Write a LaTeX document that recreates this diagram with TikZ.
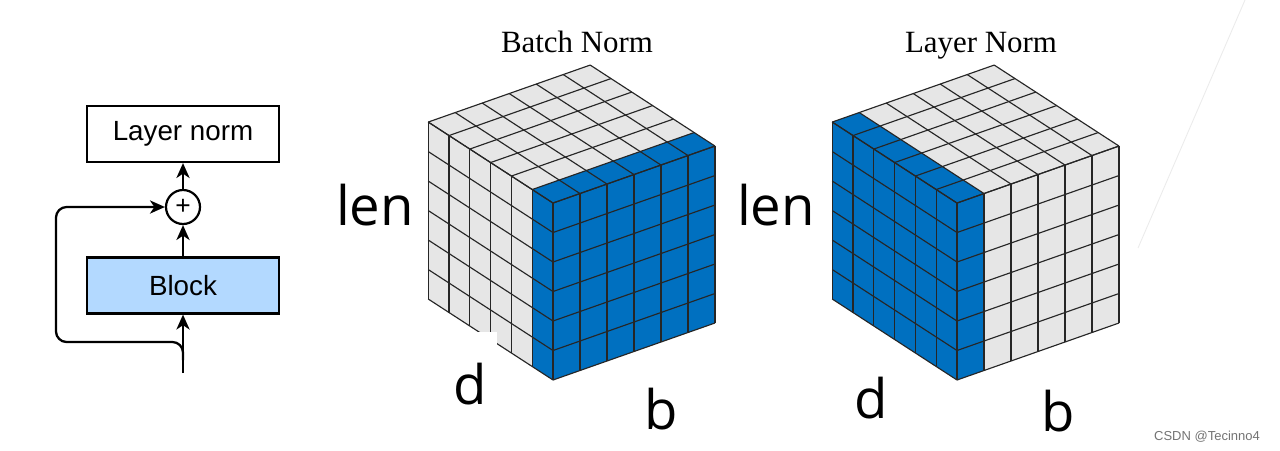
\documentclass[tikz,border=0pt]{standalone}
\usepackage{fontspec}
\setmainfont{Liberation Serif}
\setsansfont{Liberation Sans}
\newfontfamily\dimfont{Open Sans}
\usetikzlibrary{arrows.meta}
\definecolor{cellgray}{RGB}{230,230,230}
\definecolor{cellblue}{RGB}{0,112,192}
\definecolor{blockblue}{RGB}{179,217,255}
\tikzset{
  box/.style={draw, line width=1.25pt, minimum width=3.84cm, minimum height=1.12cm,
    font=\sffamily\fontsize{15.8}{18}\selectfont},
  arr/.style={line width=1.3pt, -{Stealth[length=8.5pt,width=7.5pt,inset=2.5pt]}},
  cellline/.style={line width=0.65pt, black!85},
  dimlabel/.style={font=\dimfont\fontsize{31}{36}\selectfont, inner sep=0pt},
  normtitle/.style={font=\fontsize{17.6}{20}\selectfont, anchor=base},
}
% 立方体の3面（灰色）
\newcommand{\cubefaces}{%
  \fill[cellgray] (0,0,0) -- (6,0,0) -- (6,6,0) -- (0,6,0) -- cycle;
  \fill[cellgray] (0,0,0) -- (0,0,6) -- (0,6,6) -- (0,6,0) -- cycle;
  \fill[cellgray] (0,6,0) -- (6,6,0) -- (6,6,6) -- (0,6,6) -- cycle;
}
% 格子線
\newcommand{\cubelines}{%
  \foreach \i in {0,...,6} {
    \draw[cellline] (\i,0,0) -- (\i,6,0);
    \draw[cellline] (0,\i,0) -- (6,\i,0);
    \draw[cellline] (0,0,\i) -- (0,6,\i);
    \draw[cellline] (0,\i,0) -- (0,\i,6);
    \draw[cellline] (\i,6,0) -- (\i,6,6);
    \draw[cellline] (0,6,\i) -- (6,6,\i);
  }
}
\begin{document}
\begin{tikzpicture}[x=0.02cm, y=-0.02cm]
  \useasboundingbox (0,0) rectangle (1280,450);
  % 残差ブロック
  \node[box] (ln) at (183,134) {Layer norm};
  \node[draw, circle, line width=1.25pt, minimum size=0.68cm, inner sep=0pt,
    font=\sffamily\fontsize{15}{15}\selectfont] (add) at (183,207) {+};
  \node[box, fill=blockblue] (blk) at (183,285.5) {Block};
  \coordinate (in) at (183,373);
  \coordinate (sk) at (183,360);
  \coordinate (lp) at (56,342);
  \draw[arr] (in) -- (blk);
  \draw[arr] (blk) -- (add);
  \draw[arr] (add) -- (ln);
  \draw[arr, rounded corners=6pt] (sk) |- (lp) |- (add.west);

  % Batch Norm
  \node[normtitle] (bnt) at (577,52) {Batch Norm};
  \begin{scope}[shift={(553,380)}, x={(0.54cm,0.19cm)}, y={(0cm,0.59cm)}, z={(-0.416cm,0.27cm)}]
    \cubefaces
    \fill[cellblue] (0,0,0) -- (6,0,0) -- (6,6,0) -- (0,6,0) -- cycle;
    \fill[cellblue] (0,0,0) -- (0,0,1) -- (0,6,1) -- (0,6,0) -- cycle;
    \fill[cellblue] (0,6,0) -- (6,6,0) -- (6,6,1) -- (0,6,1) -- cycle;
    \cubelines
  \end{scope}
  \fill[white] (440,332) rectangle (497,362);
  \node[dimlabel] (len1) at (375,205) {len};
  \node[dimlabel] (d1) at (470,384) {d};
  \node[dimlabel] (b1) at (661,409) {b};

  % Layer Norm
  \node[normtitle] (lnt) at (981,52) {Layer Norm};
  \begin{scope}[shift={(957,380)}, x={(0.54cm,0.19cm)}, y={(0cm,0.59cm)}, z={(-0.416cm,0.27cm)}]
    \cubefaces
    \fill[cellblue] (0,0,0) -- (0,0,6) -- (0,6,6) -- (0,6,0) -- cycle;
    \fill[cellblue] (0,0,0) -- (1,0,0) -- (1,6,0) -- (0,6,0) -- cycle;
    \fill[cellblue] (0,6,0) -- (1,6,0) -- (1,6,6) -- (0,6,6) -- cycle;
    \cubelines
  \end{scope}
  \node[dimlabel] (len2) at (776,205) {len};
  \node[dimlabel] (d2) at (871,398) {d};
  \node[dimlabel] (b2) at (1058,411) {b};

  % 透かし
  \draw[black!8, line width=0.5pt] (1245,0) -- (1138,248);
  \node[anchor=east, font=\sffamily\fontsize{7.4}{9}\selectfont, text=black!55] (wm) at (1266,437) {CSDN @Tecinno4};
\end{tikzpicture}
\end{document}
